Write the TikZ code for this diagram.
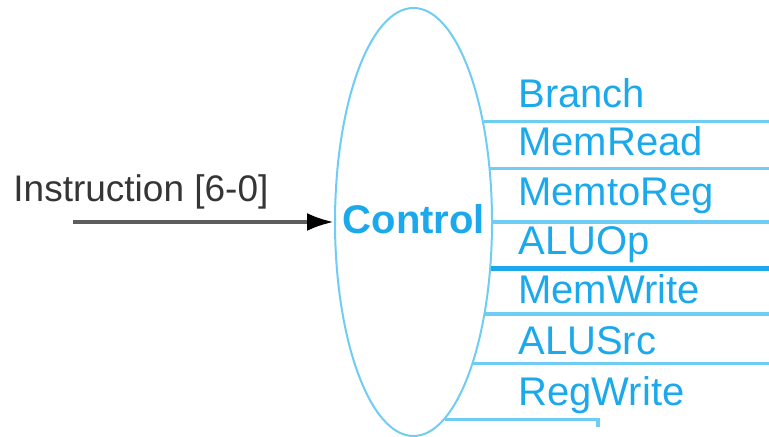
\documentclass[tikz,border=0pt]{standalone}
\usepackage{fontspec}
\setmainfont{Liberation Sans}
\usepackage{tikz}
\usetikzlibrary{arrows.meta}
\usetikzlibrary{shapes.geometric}
\definecolor{ctrlblue}{HTML}{1BA9EC}
\definecolor{wireblue}{HTML}{6FCCF3}
\definecolor{instrgray}{HTML}{353535}
\tikzstyle{unit}=[ellipse, draw=wireblue, line width=1pt, minimum width=78.5pt, minimum height=214pt, inner sep=0pt]
\tikzstyle{unitlabel}=[inner sep=0pt, text=ctrlblue, font=\fontsize{20}{24}\selectfont\bfseries]
\tikzstyle{signal}=[anchor=base west, inner sep=0pt, text=ctrlblue, font=\fontsize{20}{24}\selectfont]
\tikzstyle{wire}=[draw=wireblue, line width=1.6pt]
\tikzstyle{busy}=[draw=ctrlblue, line width=2.8pt]
\tikzstyle{arrow}=[draw=instrgray!80, line width=2pt, -{Latex[length=13.5pt, width=9pt, color=black]}]

\begin{document}
\begin{tikzpicture}[x=0.5pt, y=-0.5pt]
		   \useasboundingbox (0,0) rectangle (769,437);
		   \begin{scope}
			   \node (ctrl) at (413.5,222)[unit] {};
			   \node (ctrltxt) at (414,219)[unitlabel] {Control};
			   \node (instr) at (13,202)[anchor=base west, inner sep=0pt, text=instrgray, font=\fontsize{18.5}{22}\selectfont] {Instruction [6-0]};
			   \coordinate (src) at (73,222);
			   \coordinate (rt) at (769,222);
			   \coordinate (rw) at (598,427);

			   \node (br) at (518,108)[signal] {Branch};
			   \node (mr) at (518,156)[signal] {MemRead};
			   \node (m2r) at (518,206)[signal] {MemtoReg};
			   \node (aop) at (518,255)[signal] {ALUOp};
			   \node (mw) at (518,304)[signal] {MemWrite};
			   \node (asrc) at (518,355)[signal] {ALUSrc};
			   \node (regw) at (518,405)[signal] {RegWrite};
		   \end{scope}
		   \begin{scope}
			   \draw [arrow] (src) -- (ctrl.west);

			   \draw [wire] (ctrl.55.8) -- (ctrl.55.8 -| rt);
			   \draw [wire] (ctrl.35.2) -- (ctrl.35.2 -| rt);
			   \draw [wire] (ctrl.0.5) -- (ctrl.0.5 -| rt);
			   \draw [busy] (ctrl.-31.4) -- (ctrl.-31.4 -| rt);
			   \draw [wire] (ctrl.-52.3) -- (ctrl.-52.3 -| rt);
			   \draw [wire] (ctrl.-67.5) -- (ctrl.-67.5 -| rt);
			   \draw [wire] (ctrl.-81) -- (ctrl.-81 -| rw) -- (rw);
		   \end{scope}
\end{tikzpicture}
\end{document}
